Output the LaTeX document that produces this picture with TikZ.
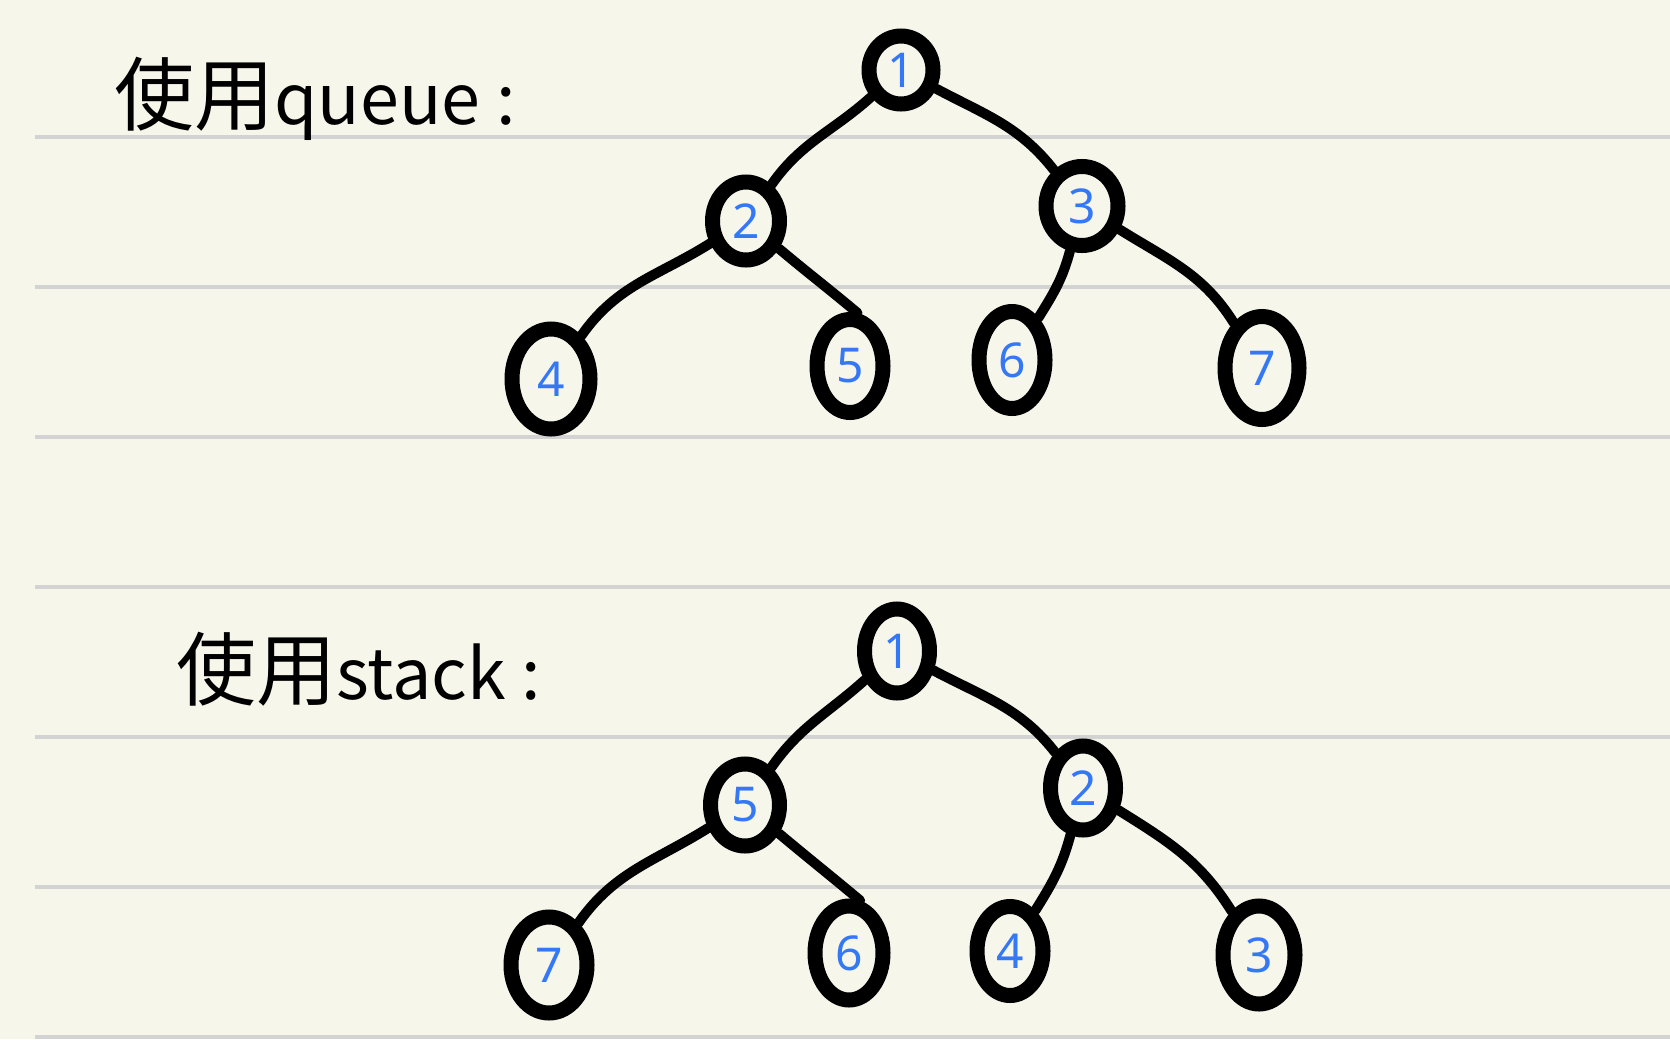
\documentclass[tikz,border=0pt]{standalone}
\usepackage{fontspec}
\setmainfont{Noto Sans}
\newfontfamily\cjk{Noto Sans CJK SC}
\usetikzlibrary{shapes.geometric}
\definecolor{paper}{HTML}{F6F6EB}
\definecolor{ruling}{HTML}{D2D3D2}
\definecolor{digit}{HTML}{3478F6}
\newcommand{\latinpart}[1]{{\fontsize{35}{35}\selectfont #1}}
\tikzset{
    knot/.style={draw=black, line width=7.5pt, ellipse, inner sep=0pt, text=digit, font=\fontsize{24}{24}\selectfont},
    link/.style={line width=5pt, line cap=round},
    heading/.style={anchor=base west, inner sep=0pt, font=\cjk\fontsize{40}{40}\selectfont}
}
\begin{document}
\begin{tikzpicture}[x=0.5pt, y=-0.5pt]
            \fill[paper] (0,0) rectangle (1670,1039);
            \useasboundingbox (0,0) rectangle (1670,1039);
            \foreach \y in {137,287,437,587,737,887,1037}
                \draw[ruling, line width=2pt] (35,\y) -- (1670,\y);
            \node[heading] (tq) at (114,124) {使用\latinpart{queue :}};
            \node[heading] (ts) at (176,699) {使用\latinpart{stack :}};
            \node[knot, minimum width=32pt, minimum height=34pt] (q1) at (901,70) {1};
            \node[knot, minimum width=33.5pt, minimum height=39pt] (q2) at (746,221) {2};
            \node[knot, minimum width=36pt, minimum height=39.5pt] (q3) at (1082,206) {3};
            \node[knot, minimum width=39pt, minimum height=50pt] (q4) at (551,379) {4};
            \node[knot, minimum width=33pt, minimum height=46.5pt] (q5) at (850,366) {5};
            \node[knot, minimum width=33pt, minimum height=48.5pt] (q6) at (1012,360) {6};
            \node[knot, minimum width=37pt, minimum height=51.5pt] (q7) at (1262,368) {7};
            \draw[link] (q1) to[out=222, in=55] (q2);
            \draw[link] (q1) to[out=-28, in=128] (q3);
            \draw[link] (q2) to[out=212, in=55] (q4);
            \draw[link] (q2) to[out=-40, in=140] (q5.82);
            \draw[link] (q3) to[out=-105, in=58] (q6);
            \draw[link] (q3) to[out=-32, in=122] (q7);
            \node[knot, minimum width=32.5pt, minimum height=42pt] (s1) at (897,651) {1};
            \node[knot, minimum width=34.5pt, minimum height=41pt] (s5) at (745,805) {5};
            \node[knot, minimum width=32.5pt, minimum height=42pt] (s2) at (1083,788) {2};
            \node[knot, minimum width=38pt, minimum height=48pt] (s7) at (549,965) {7};
            \node[knot, minimum width=34pt, minimum height=47pt] (s6) at (849,953) {6};
            \node[knot, minimum width=33pt, minimum height=44.5pt] (s4) at (1010,951) {4};
            \node[knot, minimum width=36pt, minimum height=49pt] (s3) at (1259,955) {3};
            \draw[link] (s1) to[out=222, in=55] (s5);
            \draw[link] (s1) to[out=-28, in=128] (s2);
            \draw[link] (s5) to[out=212, in=55] (s7);
            \draw[link] (s5) to[out=-40, in=140] (s6.78);
            \draw[link] (s2) to[out=-105, in=58] (s4);
            \draw[link] (s2) to[out=-32, in=122] (s3);
\end{tikzpicture}
\end{document}
